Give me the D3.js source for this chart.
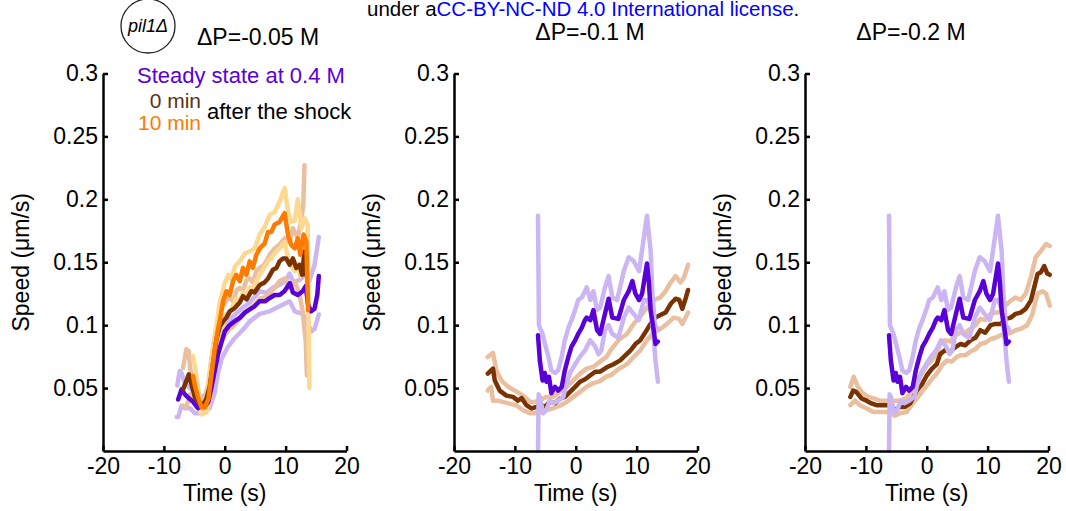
<!DOCTYPE html>
<html>
<head>
<meta charset="utf-8">
<script src="https://cdn.jsdelivr.net/npm/d3@7"></script>
<style>
  body { margin: 0; background: #fff; }
  svg { font-family: "Liberation Sans", Arial, sans-serif; }
  .axis path, .axis line { stroke: #000; stroke-width: 2.5; }
  .axis text { font-size: 23px; fill: #000; }
  .trace { fill: none; stroke-width: 4.5; stroke-linejoin: round; stroke-linecap: round; }
</style>
</head>
<body>
<div id="chart"></div>
<script>
// ---- data: [time (s), speed (um/s)] ----

var xTicks = [-20, -10, 0, 10, 20];
var yTicks = [0.05, 0.1, 0.15, 0.2, 0.25, 0.3];
var titles = ["ΔP=-0.05 M", "ΔP=-0.1 M", "ΔP=-0.2 M"];

// panel 1, steady state at 0.4 M
var p1PurpleMean = [[-7.65,0.041],[-7.1,0.049],[-6.55,0.045],[-6.0,0.0425],[-5.2,0.039],[-4.4,0.034],[-3.8,0.036],[-3.3,0.035],[-2.7,0.039],[-2.2,0.05],[-1.6,0.065],[-1.1,0.077],[-0.8,0.082],[0.0,0.095],[0.8,0.1],[1.6,0.103],[2.5,0.106],[3.3,0.11],[4.1,0.1125],[4.9,0.115],[5.7,0.119],[6.6,0.119],[7.4,0.1216],[8.2,0.124],[9.0,0.124],[9.8,0.127],[10.7,0.1335],[11.2,0.126],[12.0,0.124],[12.8,0.127],[13.3,0.131],[13.7,0.116],[14.2,0.111],[14.75,0.113],[15.2,0.124],[15.45,0.139]];
var p1PurpleHi = [[-7.8,0.052],[-7.4,0.0636],[-7.1,0.062],[-6.55,0.054],[-5.7,0.05],[-4.6,0.045],[-3.8,0.043],[-3.0,0.045],[-2.2,0.054],[-1.36,0.073],[-0.82,0.091],[0.0,0.1],[1.36,0.107],[2.5,0.112],[4.1,0.118],[5.74,0.127],[6.8,0.1256],[8.0,0.13],[9.0,0.132],[10.0,0.135],[10.66,0.141],[11.3,0.134],[12.3,0.136],[13.3,0.14],[13.9,0.135],[14.75,0.148],[15.45,0.17]];
var p1PurpleLo = [[-7.9,0.027],[-7.65,0.027],[-7.1,0.036],[-6.55,0.034],[-5.7,0.034],[-4.9,0.03],[-4.1,0.03],[-3.3,0.031],[-2.5,0.034],[-1.64,0.0465],[-1.1,0.062],[-0.54,0.073],[0.55,0.083],[1.5,0.089],[2.5,0.094],[3.3,0.098],[4.1,0.103],[5.74,0.109],[7.38,0.111],[9.0,0.115],[10.66,0.119],[11.5,0.111],[12.8,0.109],[13.5,0.103],[14.2,0.095],[14.75,0.097],[15.45,0.1085]];

// panel 1, 0 min after the shock
var p1BrownMean = [[-6.85,0.049],[-6.3,0.0557],[-5.9,0.061],[-5.46,0.053],[-4.9,0.0425],[-4.1,0.038],[-3.6,0.0365],[-3.0,0.0414],[-2.46,0.0517],[-1.9,0.07],[-1.36,0.0887],[-0.82,0.099],[-0.27,0.103],[0.27,0.106],[0.82,0.111],[1.64,0.1136],[2.46,0.118],[3.0,0.123],[3.6,0.1205],[4.37,0.127],[4.9,0.126],[5.74,0.132],[6.56,0.134],[7.1,0.137],[7.9,0.144],[8.5,0.1455],[9.0,0.1507],[9.56,0.153],[10.1,0.153],[10.66,0.148],[11.2,0.153],[11.75,0.1455],[12.3,0.148],[12.7,0.14],[13.1,0.1586],[13.35,0.14]];
var p1BrownHi = [[-6.85,0.066],[-6.3,0.081],[-5.9,0.079],[-5.7,0.066],[-5.2,0.056],[-4.4,0.045],[-3.8,0.04],[-3.3,0.043],[-2.7,0.053],[-2.2,0.073],[-1.64,0.091],[-1.1,0.1045],[-0.82,0.111],[0.3,0.12],[0.82,0.1216],[1.4,0.119],[2.0,0.128],[2.46,0.1296],[3.0,0.128],[3.6,0.136],[4.1,0.137],[4.6,0.134],[5.2,0.143],[5.74,0.1455],[6.5,0.148],[7.38,0.156],[8.2,0.161],[9.0,0.164],[9.84,0.169],[10.66,0.166],[11.2,0.177],[12.0,0.169],[12.5,0.182],[12.9,0.195],[13.1,0.227]];
var p1BrownLo = [[-6.85,0.036],[-6.3,0.035],[-5.7,0.045],[-5.2,0.04],[-4.6,0.035],[-3.8,0.031],[-3.0,0.033],[-2.46,0.042],[-1.9,0.058],[-1.36,0.075],[-0.82,0.087],[0.0,0.092],[0.82,0.097],[1.6,0.1],[2.46,0.105],[3.3,0.11],[4.1,0.113],[4.9,0.116],[5.74,0.121],[6.5,0.122],[7.38,0.1256],[8.2,0.1296],[9.0,0.135],[9.84,0.137],[10.66,0.1296],[11.5,0.135],[12.3,0.124],[12.8,0.111],[13.3,0.087],[13.5,0.06]];

// panel 1, 10 min after the shock
var p1OrangeMean = [[-5.2,0.0596],[-4.9,0.052],[-4.4,0.043],[-3.8,0.0346],[-3.3,0.0346],[-2.7,0.041],[-2.2,0.0596],[-1.64,0.081],[-1.1,0.097],[-0.82,0.1035],[-0.27,0.119],[0.27,0.127],[0.82,0.124],[1.36,0.135],[1.9,0.14],[2.46,0.135],[3.0,0.1455],[3.55,0.14],[4.1,0.1507],[4.6,0.1455],[5.2,0.156],[5.74,0.161],[6.56,0.165],[7.1,0.174],[7.65,0.174],[8.2,0.18],[9.0,0.182],[9.84,0.189],[10.4,0.1715],[10.9,0.164],[11.5,0.161],[12.0,0.169],[12.4,0.156],[12.95,0.172],[13.4,0.166],[13.7,0.112]];
var p1OrangeHi = [[-5.2,0.0755],[-4.6,0.058],[-4.1,0.04],[-3.6,0.035],[-3.0,0.04],[-2.5,0.0596],[-1.9,0.083],[-1.36,0.099],[-0.82,0.118],[0.0,0.1335],[0.6,0.14],[1.1,0.137],[1.7,0.147],[2.46,0.1507],[3.3,0.157],[4.1,0.1586],[4.9,0.161],[5.74,0.172],[6.56,0.178],[7.38,0.1876],[8.2,0.19],[9.0,0.198],[9.84,0.209],[10.4,0.19],[10.9,0.182],[11.5,0.183],[12.0,0.2],[12.6,0.177],[13.1,0.185],[13.6,0.18],[13.9,0.05]];
var p1OrangeLo = [[-5.2,0.046],[-4.6,0.038],[-3.8,0.029],[-3.0,0.031],[-2.5,0.04],[-1.9,0.058],[-1.36,0.075],[-0.82,0.092],[-0.27,0.101],[0.27,0.109],[0.82,0.11],[1.4,0.116],[1.9,0.121],[2.5,0.12],[3.0,0.126],[3.6,0.124],[4.1,0.13],[4.6,0.129],[5.2,0.135],[5.74,0.14],[6.56,0.146],[7.1,0.151],[7.65,0.153],[8.2,0.157],[9.0,0.161],[9.84,0.166],[10.4,0.153],[10.9,0.147],[11.5,0.143],[12.0,0.149],[12.4,0.139],[12.95,0.15],[13.4,0.146],[13.7,0.11]];

// panels 2 and 3, steady state at 0.4 M (same reference in both)
var ssPurpleMean = [[-6.2,0.092],[-5.9,0.072],[-5.45,0.056],[-5.1,0.062],[-4.8,0.055],[-4.4,0.059],[-4.0,0.046],[-3.4,0.051],[-2.9,0.048],[-2.3,0.051],[-1.8,0.064],[-1.2,0.075],[-0.7,0.083],[-0.1,0.088],[0.4,0.093],[1.0,0.098],[1.5,0.104],[1.8,0.106],[2.4,0.104],[2.9,0.112],[3.5,0.096],[4.0,0.093],[4.8,0.109],[5.4,0.121],[6.0,0.106],[7.0,0.105],[7.9,0.12],[8.7,0.127],[9.3,0.135],[9.8,0.125],[10.4,0.12],[10.9,0.125],[11.7,0.149],[12.0,0.135],[12.3,0.112],[12.8,0.096],[13.1,0.085],[13.5,0.087]];
var ssPurpleHi = [[-6.2,0.187],[-6.05,0.1],[-5.9,0.098],[-5.45,0.093],[-5.1,0.086],[-4.5,0.075],[-4.0,0.064],[-3.4,0.062],[-2.9,0.064],[-2.3,0.075],[-1.8,0.088],[-1.2,0.098],[-0.7,0.104],[-0.1,0.112],[0.4,0.12],[1.0,0.122],[1.8,0.13],[2.4,0.12],[2.9,0.127],[3.5,0.112],[4.0,0.114],[4.8,0.13],[5.4,0.139],[6.0,0.122],[6.8,0.12],[7.9,0.143],[8.7,0.154],[9.5,0.151],[10.4,0.143],[11.2,0.17],[11.7,0.187],[12.3,0.159],[12.6,0.125],[13.0,0.1],[13.5,0.097]];
var ssPurpleLo = [[-6.2,0.0],[-6.1,0.045],[-5.9,0.043],[-5.35,0.03],[-4.8,0.033],[-4.25,0.04],[-3.7,0.038],[-2.9,0.04],[-2.05,0.043],[-1.5,0.054],[-0.94,0.062],[-0.1,0.069],[0.7,0.075],[1.54,0.08],[2.36,0.088],[3.2,0.083],[3.74,0.077],[4.2,0.08],[4.8,0.096],[5.4,0.1],[6.0,0.093],[7.0,0.09],[7.9,0.106],[8.7,0.114],[9.5,0.109],[10.35,0.104],[11.2,0.12],[11.7,0.12],[12.3,0.113],[12.8,0.09],[13.1,0.072],[13.5,0.055]];

// panel 2, 0 min after the shock
var p2BrownMean = [[-14.45,0.0615],[-13.6,0.0655],[-13.3,0.056],[-12.5,0.048],[-11.4,0.044],[-10.3,0.043],[-9.5,0.04],[-8.9,0.042],[-8.1,0.0364],[-7.3,0.0338],[-6.45,0.035],[-5.6,0.0364],[-5.07,0.035],[-4.25,0.039],[-3.4,0.038],[-2.6,0.0417],[-1.77,0.043],[-0.94,0.047],[-0.1,0.051],[0.7,0.055],[1.54,0.057],[2.36,0.06],[3.2,0.063],[4.0,0.063],[5.1,0.0665],[6.2,0.069],[7.3,0.072],[8.15,0.076],[9.0,0.08],[9.8,0.085],[10.6,0.088],[11.45,0.0945],[12.28,0.101],[13.1,0.106],[13.9,0.108],[14.75,0.11],[15.6,0.117],[16.4,0.121],[17.0,0.12],[17.5,0.113],[18.1,0.122],[18.45,0.128]];
var p2BrownHi = [[-14.45,0.0747],[-13.6,0.078],[-13.05,0.064],[-12.2,0.056],[-11.1,0.051],[-10.0,0.048],[-9.2,0.0457],[-8.4,0.043],[-7.5,0.039],[-6.7,0.039],[-5.9,0.0404],[-4.8,0.043],[-3.7,0.043],[-2.6,0.047],[-1.5,0.051],[-0.4,0.056],[0.7,0.0615],[1.8,0.0655],[2.9,0.067],[4.0,0.071],[5.1,0.075],[5.7,0.08],[7.0,0.088],[8.4,0.093],[9.5,0.101],[10.6,0.107],[11.7,0.114],[12.8,0.12],[13.9,0.122],[14.75,0.127],[15.6,0.134],[16.4,0.139],[17.2,0.134],[17.8,0.138],[18.45,0.148]];
var p2BrownLo = [[-14.45,0.048],[-13.9,0.051],[-13.6,0.04],[-12.8,0.04],[-12.0,0.039],[-10.9,0.0377],[-9.8,0.0364],[-8.66,0.0325],[-7.5,0.03],[-6.7,0.03],[-5.9,0.031],[-4.8,0.0325],[-3.7,0.034],[-2.6,0.036],[-1.5,0.039],[-0.4,0.043],[0.7,0.047],[1.8,0.051],[2.9,0.054],[4.0,0.0555],[5.1,0.0595],[5.7,0.06],[7.0,0.065],[8.4,0.069],[9.5,0.0747],[10.6,0.08],[11.7,0.088],[12.8,0.094],[13.9,0.097],[15.0,0.101],[16.1,0.106],[17.0,0.105],[17.5,0.101],[18.45,0.11]];

// panel 3, 0 min after the shock
var p3BrownMean = [[-12.55,0.043],[-12.1,0.048],[-11.6,0.047],[-10.7,0.0417],[-9.9,0.04],[-9.07,0.0378],[-8.25,0.0364],[-7.15,0.0364],[-6.3,0.0364],[-5.8,0.035],[-5.2,0.0325],[-4.4,0.035],[-3.6,0.035],[-2.74,0.0378],[-2.2,0.043],[-1.64,0.048],[-0.8,0.053],[0.0,0.06],[0.8,0.065],[1.65,0.069],[2.2,0.077],[3.0,0.08],[3.85,0.079],[4.7,0.0826],[5.5,0.085],[6.3,0.084],[7.17,0.088],[8.0,0.09],[8.8,0.096],[9.6,0.094],[10.5,0.1],[11.3,0.101],[12.1,0.101],[13.0,0.105],[13.8,0.106],[14.6,0.109],[15.4,0.11],[16.25,0.113],[17.1,0.1195],[17.6,0.129],[18.2,0.1407],[18.75,0.142],[19.3,0.147],[19.8,0.141],[20.2,0.14]];
var p3BrownHi = [[-12.55,0.051],[-12.0,0.059],[-11.3,0.051],[-10.5,0.046],[-9.6,0.043],[-8.8,0.042],[-7.7,0.04],[-6.6,0.04],[-5.5,0.04],[-4.4,0.04],[-3.3,0.042],[-2.5,0.048],[-1.64,0.056],[-0.8,0.0615],[0.0,0.068],[0.8,0.072],[1.65,0.077],[2.2,0.085],[3.0,0.088],[3.85,0.087],[4.7,0.092],[5.5,0.094],[6.3,0.094],[7.2,0.097],[8.0,0.1],[8.8,0.105],[9.6,0.104],[10.5,0.109],[11.3,0.11],[12.1,0.11],[13.0,0.116],[13.8,0.1195],[14.6,0.122],[15.4,0.12],[16.25,0.125],[17.1,0.138],[17.9,0.154],[18.75,0.159],[19.6,0.1645],[20.2,0.163]];
var p3BrownLo = [[-12.55,0.0364],[-11.8,0.04],[-11.0,0.0364],[-9.9,0.034],[-8.8,0.031],[-7.7,0.031],[-6.3,0.031],[-5.2,0.028],[-4.4,0.03],[-3.3,0.031],[-2.5,0.0364],[-1.64,0.0417],[-0.8,0.047],[0.0,0.052],[0.8,0.057],[1.65,0.0615],[2.5,0.068],[3.3,0.072],[4.1,0.071],[5.0,0.075],[5.5,0.076],[6.3,0.076],[7.2,0.079],[8.0,0.081],[8.8,0.085],[9.6,0.086],[10.5,0.089],[11.3,0.09],[12.1,0.092],[13.0,0.093],[13.8,0.094],[14.6,0.096],[15.4,0.097],[16.5,0.1],[17.3,0.108],[18.2,0.125],[19.0,0.127],[19.6,0.125],[20.2,0.1155]];

// colours
var purple = "#5a00d9", purpleLight = "#cbb6f3";
var brown = "#7a3300", brownLight = "#e9bf9f";
var orange = "#ff7b00", orangeLight = "#fdd98f";

var W = 1066, H = 511;
var yTop = 73.5, yBottom = 451;

// one entry per panel; traces are drawn in list order
var panels = [
    { left: 103, title: titles[0], titleX: 197, titleY: 45, anchor: "start", traces: [
        [p1PurpleHi, purpleLight], [p1PurpleLo, purpleLight],
        [p1BrownHi, brownLight], [p1BrownLo, brownLight],
        [p1OrangeHi, orangeLight], [p1OrangeLo, orangeLight],
        [p1PurpleMean, purple], [p1BrownMean, brown], [p1OrangeMean, orange]
    ]},
    { left: 454, title: titles[1], titleX: 590, titleY: 40, anchor: "middle", traces: [
        [p2BrownHi, brownLight], [p2BrownLo, brownLight], [p2BrownMean, brown],
        [ssPurpleHi, purpleLight], [ssPurpleLo, purpleLight], [ssPurpleMean, purple]
    ]},
    { left: 805, title: titles[2], titleX: 911, titleY: 40, anchor: "middle", traces: [
        [p3BrownHi, brownLight], [p3BrownLo, brownLight], [p3BrownMean, brown],
        [ssPurpleHi, purpleLight], [ssPurpleLo, purpleLight], [ssPurpleMean, purple]
    ]}
];
var panelWidth = 243.5;

var svg = d3.select("#chart").append("svg")
    .attr("width", W)
    .attr("height", H);

// header text, cut from the page above
var header = svg.append("text")
    .attr("x", 367)
    .attr("y", 16)
    .style("font-size", "20.5px");
header.append("tspan").attr("fill", "#000").text("under a");
header.append("tspan").attr("fill", "#0000ff").text("CC-BY-NC-ND 4.0 International license");
header.append("tspan").attr("fill", "#000").text(".");

// strain badge
svg.append("circle")
    .attr("cx", 148)
    .attr("cy", 26)
    .attr("r", 27)
    .attr("fill", "none")
    .attr("stroke", "#222")
    .attr("stroke-width", 1.3);

svg.append("text")
    .attr("x", 148)
    .attr("y", 32)
    .attr("text-anchor", "middle")
    .style("font-size", "18px")
    .style("font-style", "italic")
    .text("pil1Δ");

var line = d3.line();

panels.forEach(p => {

    var x = d3.scaleLinear().domain([-20, 20]).range([p.left, p.left + panelWidth]);
    var y = d3.scaleLinear().domain([0, 0.3]).range([yBottom, yTop]);

    line.x(d => x(d[0])).y(d => y(d[1]));

    var g = svg.append("g").attr("class", "panel-g");

    g.selectAll(".trace")
        .data(p.traces)
        .enter().append("path")
        .attr("class", "trace")
        .attr("stroke", d => d[1])
        .attr("d", d => line(d[0]));

    // axes, ticks point inward, plain hyphen for negatives
    g.append("g")
        .attr("class", "axis")
        .attr("transform", `translate(0,${yBottom})`)
        .call(d3.axisBottom(x).tickValues(xTicks).tickSize(-5).tickSizeOuter(0).tickPadding(7)
            .tickFormat(d => String(d)));

    g.append("g")
        .attr("class", "axis")
        .attr("transform", `translate(${p.left},0)`)
        .call(d3.axisLeft(y).tickValues(yTicks).tickSize(-5).tickSizeOuter(0).tickPadding(5)
            .tickFormat(d => String(+d.toFixed(2))));

    g.selectAll(".axis text").attr("font-family", null);

    g.append("text")
        .attr("transform", `translate(${p.left - 74},${(yTop + yBottom) / 2}) rotate(-90)`)
        .attr("text-anchor", "middle")
        .style("font-size", "23px")
        .text("Speed (μm/s)");

    g.append("text")
        .attr("x", p.left + panelWidth / 2)
        .attr("y", 501)
        .attr("text-anchor", "middle")
        .style("font-size", "23px")
        .text("Time (s)");

    g.append("text")
        .attr("x", p.titleX)
        .attr("y", p.titleY)
        .attr("text-anchor", p.anchor)
        .style("font-size", "23px")
        .text(p.title);
});

// legend of the first panel
svg.append("text")
    .attr("x", 137)
    .attr("y", 83)
    .attr("fill", purple)
    .style("font-size", "22px")
    .text("Steady state at 0.4 M");

svg.append("text")
    .attr("x", 201)
    .attr("y", 108)
    .attr("text-anchor", "end")
    .attr("fill", "#5a3414")
    .style("font-size", "21px")
    .text("0 min");

svg.append("text")
    .attr("x", 201)
    .attr("y", 130)
    .attr("text-anchor", "end")
    .attr("fill", orange)
    .style("font-size", "21px")
    .text("10 min");

svg.append("text")
    .attr("x", 207)
    .attr("y", 119)
    .style("font-size", "22px")
    .text("after the shock");
</script>
</body>
</html>
